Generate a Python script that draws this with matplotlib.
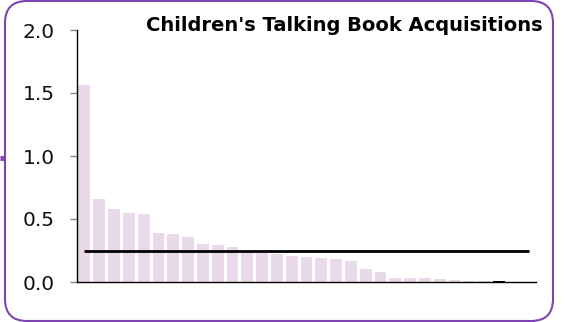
import matplotlib
matplotlib.use("Agg")
import matplotlib.pyplot as plt
from matplotlib.patches import FancyBboxPatch

BAR_COLOR = '#EAD9EB'
HIGHLIGHT_COLOR = 'black'
BORDER_COLOR = '#7E44B0'

# acquisitions per item, sorted descending (one highlighted bar near the end)
values = [1.56, 0.66, 0.58, 0.55, 0.54, 0.39, 0.38, 0.36, 0.30, 0.29,
          0.28, 0.25, 0.23, 0.22, 0.21, 0.20, 0.19, 0.18, 0.17, 0.10,
          0.08, 0.03, 0.03, 0.03, 0.02, 0.015, 0.01, 0.005, 0.01, 0.0, 0.0]
highlight = [False] * 28 + [True] + [False, False]
mean_value = 0.25
yticks = [0.0, 0.5, 1.0, 1.5, 2.0]
title = "Children's Talking Book Acquisitions"

fig = plt.figure(figsize=(5.65, 3.22), dpi=100)

# background frame drawn in pixel units
bg = fig.add_axes([0, 0, 1, 1], zorder=-1)
bg.set_xlim(0, 565)
bg.set_ylim(322, 0)
bg.axis('off')
bg.add_patch(FancyBboxPatch((5, 1), 548, 320, boxstyle='round,pad=0,rounding_size=22',
                            facecolor='white', edgecolor=BORDER_COLOR, linewidth=1.5))
bg.plot([0, 5], [158, 158], color=BORDER_COLOR, linewidth=3.5, solid_capstyle='butt')

ax = fig.add_axes([77 / 565, 40 / 322, 459 / 565, 252 / 322])
ax.patch.set_alpha(0)
x = list(range(len(values)))
colors = [HIGHLIGHT_COLOR if h else BAR_COLOR for h in highlight]
ax.bar(x, values, width=0.8, color=colors)
ax.hlines(mean_value, x[0], x[-1], color='black', linewidth=2)

ax.set_xlim(-0.5, len(values) - 0.5)
ax.set_ylim(0, 2.0)
ax.set_yticks(yticks)
ax.set_yticklabels([f'{v:.1f}' for v in yticks], fontsize=14.5, color='#111111')
ax.tick_params(axis='y', length=5, width=1, color='#888888', pad=11)
ax.set_xticks([])
for side in ('top', 'right'):
    ax.spines[side].set_visible(False)
for side in ('left', 'bottom'):
    ax.spines[side].set_color('black')
    ax.spines[side].set_linewidth(1)

fig.text(543 / 565, 1 - 31 / 322, title, ha='right', va='baseline',
         fontsize=14, fontweight='bold', color='black')

fig.savefig('out.png', dpi=100)
